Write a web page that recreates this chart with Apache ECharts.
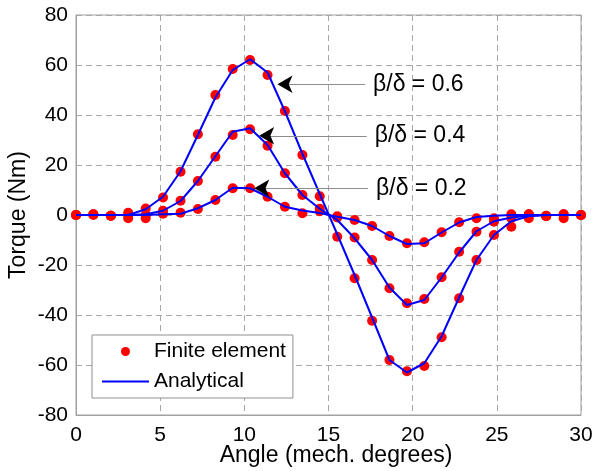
<!DOCTYPE html>
<html>
<head>
<meta charset="utf-8">
<script src="https://cdn.jsdelivr.net/npm/echarts@6/dist/echarts.min.js"></script>
<style>
html,body{margin:0;padding:0;background:#fff;}
#chart{width:595px;height:471px;}
</style>
</head>
<body>
<div id="chart"></div>
<script>
// Angle positions (mech. degrees)
var angles = [0, 1.03, 2.07, 3.10, 4.14, 5.17, 6.21, 7.24, 8.28, 9.31, 10.34, 11.38, 12.41, 13.45, 14.48,
              15.52, 16.55, 17.59, 18.62, 19.66, 20.69, 21.72, 22.76, 23.79, 24.83, 25.86, 26.90, 27.93, 28.97, 30];

// Finite element results (Nm)
var fe06 = [0, 0.3, -0.3, 0.9, 2.6, 7.0, 17.3, 32.3, 48, 58.4, 62, 56, 41.6, 24, 7.5,
            -8.7, -25.3, -42.3, -58, -62.5, -60.4, -48.9, -33.3, -18, -8, -4.7, 0.3, -0.4, 0.3, 0];
var fe04 = [0, 0.3, -0.3, -1.3, -1.3, 1.7, 5.7, 13.6, 23.3, 32, 34.3, 27.7, 16.7, 8, 2.5,
            -1.0, -9.0, -18, -29.3, -35.3, -33.6, -24.9, -14.7, -6.7, -2.7, -1.3, -1.3, -0.5, -1.3, 0];
var fe02 = [0, 0, -0.3, 0, 0, 0.5, 0.9, 2.4, 6, 10.7, 10.7, 7.3, 3.3, 0.7, 1.5,
            -0.5, -2.0, -4.4, -8.4, -11.3, -10.9, -6.9, -2.9, -1.3, -1.3, 0.3, 0.3, -0.3, 0.3, 0];

// Analytical results (Nm)
var an06 = [0, 0, 0, 0, 2.3, 7.3, 17.5, 32, 47, 58, 62.3, 57, 41.5, 24.5, 8.4,
            -7.7, -24, -41, -58, -63, -59.3, -48.5, -33, -18, -8, -2.5, -0.5, 0, 0, 0];
var an04 = [0, 0, 0, 0, 0.3, 1.7, 5.6, 13.6, 23.5, 33.3, 34.7, 28, 16.7, 8, 2.5,
            -2, -9.3, -18, -29, -36, -34, -25, -15, -6.5, -2.5, -1, -0.3, 0, 0, 0];
var an02 = [0, 0, 0, 0, 0, 0.3, 0.5, 2.7, 6, 10.9, 10.7, 7.3, 3.3, 1.8, 0.8,
            -0.7, -2, -4.4, -8.4, -11.6, -11.3, -7, -3, -0.8, -0.3, 0, 0, 0, 0, 0];

// Annotations: label, arrow position [x, y], line end x
var annLabels = ['β/δ = 0.6', 'β/δ = 0.4', 'β/δ = 0.2'];
var annTips = [[12.02, 52.3], [10.93, 31.7], [10.64, 10.7]];
var annEndX = [17.17, 17.27, 17.35];

var xTicks = [0, 5, 10, 15, 20, 25, 30];
var yTicks = [-80, -60, -40, -20, 0, 20, 40, 60, 80];

function pairs(xs, ys) {
  return xs.map(function (x, i) { return [x, ys[i]]; });
}

var FONT = '"Liberation Sans", Arial, Helvetica, sans-serif';
var RED = '#ff0000', BLUE = '#0000ff';

var feSets = [fe06, fe04, fe02];
var anSets = [an06, an04, an02];

var series = [];
feSets.forEach(function (d) {
  series.push({
    name: 'Finite element', type: 'scatter', data: pairs(angles, d),
    symbol: 'circle', symbolSize: 10, itemStyle: { color: RED, opacity: 1 }, z: 2, silent: true
  });
});
anSets.forEach(function (d) {
  series.push({
    name: 'Analytical', type: 'line', data: pairs(angles, d),
    symbol: 'none', lineStyle: { color: BLUE, width: 2 }, itemStyle: { color: BLUE }, z: 3, silent: true
  });
});

var arrowShift = -0.05;
series.push({
  name: 'annot', type: 'line', data: [], silent: true,
  markLine: {
    silent: true, animation: false,
    symbol: ['none', 'none'],
    lineStyle: { color: '#8c8c8c', width: 1, type: 'solid' },
    data: annLabels.map(function (lab, i) {
      return [
        { coord: [annEndX[i], annTips[i][1]],
          label: { show: true, position: 'start', formatter: lab, distance: 8,
                   color: '#000', fontSize: 23, fontFamily: FONT, padding: [5, 0, 0, 0] } },
        { coord: [annTips[i][0] + 0.4, annTips[i][1]] }
      ];
    })
  },
  markPoint: {
    silent: true, animation: false,
    symbol: 'arrow', symbolSize: [13, 15], symbolRotate: 90,
    itemStyle: { color: '#000' },
    label: { show: false },
    data: annTips.map(function (t) { return { coord: [t[0] + arrowShift, t[1]] }; })
  }
});

var chart = echarts.init(document.getElementById('chart'), null, { renderer: 'canvas' });
chart.setOption({
  animation: false,
  backgroundColor: '#fff',
  grid: { left: 76, right: 14, top: 15, bottom: 56, containLabel: false, outerBoundsMode: 'none',
          show: true, borderColor: '#a0a0a0', borderWidth: 1 },
  xAxis: {
    type: 'value', min: 0, max: 30, interval: 5,
    name: 'Angle (mech. degrees)', nameLocation: 'middle', nameGap: 29, nameMoveOverlap: false,
    nameTextStyle: { color: '#000', fontSize: 23, fontFamily: FONT, padding: [0, 0, 0, 15] },
    axisLine: { show: true, onZero: false, lineStyle: { color: '#a0a0a0' } },
    axisTick: { show: false },
    axisLabel: { color: '#000', fontSize: 21, fontFamily: FONT, margin: 10,
                 formatter: function (v) { return xTicks.indexOf(v) >= 0 ? String(v) : ''; } },
    splitLine: { show: true, lineStyle: { color: '#a8a8a8', type: [6, 4], width: 1 } }
  },
  yAxis: {
    type: 'value', min: -80, max: 80, interval: 20,
    name: 'Torque (Nm)', nameLocation: 'middle', nameGap: 46, nameMoveOverlap: false,
    nameTextStyle: { color: '#000', fontSize: 23, fontFamily: FONT },
    axisLine: { show: true, onZero: false, lineStyle: { color: '#a0a0a0' } },
    axisTick: { show: false },
    axisLabel: { color: '#000', fontSize: 21, fontFamily: FONT, margin: 8,
                 formatter: function (v) { return yTicks.indexOf(v) >= 0 ? String(v) : ''; } },
    splitLine: { show: true, lineStyle: { color: '#a8a8a8', type: [6, 4], width: 1 } }
  },
  legend: {
    data: [{ name: 'Finite element' }, { name: 'Analytical', itemStyle: { opacity: 0 } }],
    orient: 'vertical', left: 92, top: 335,
    padding: [6, 7, 6, 9], itemGap: 9, itemWidth: 47, itemHeight: 9,
    backgroundColor: '#fff', borderColor: '#909090', borderWidth: 1, borderRadius: 0,
    textStyle: { color: '#000', fontSize: 21, fontFamily: FONT },
    selectedMode: false
  },
  series: series
});
</script>
</body>
</html>
